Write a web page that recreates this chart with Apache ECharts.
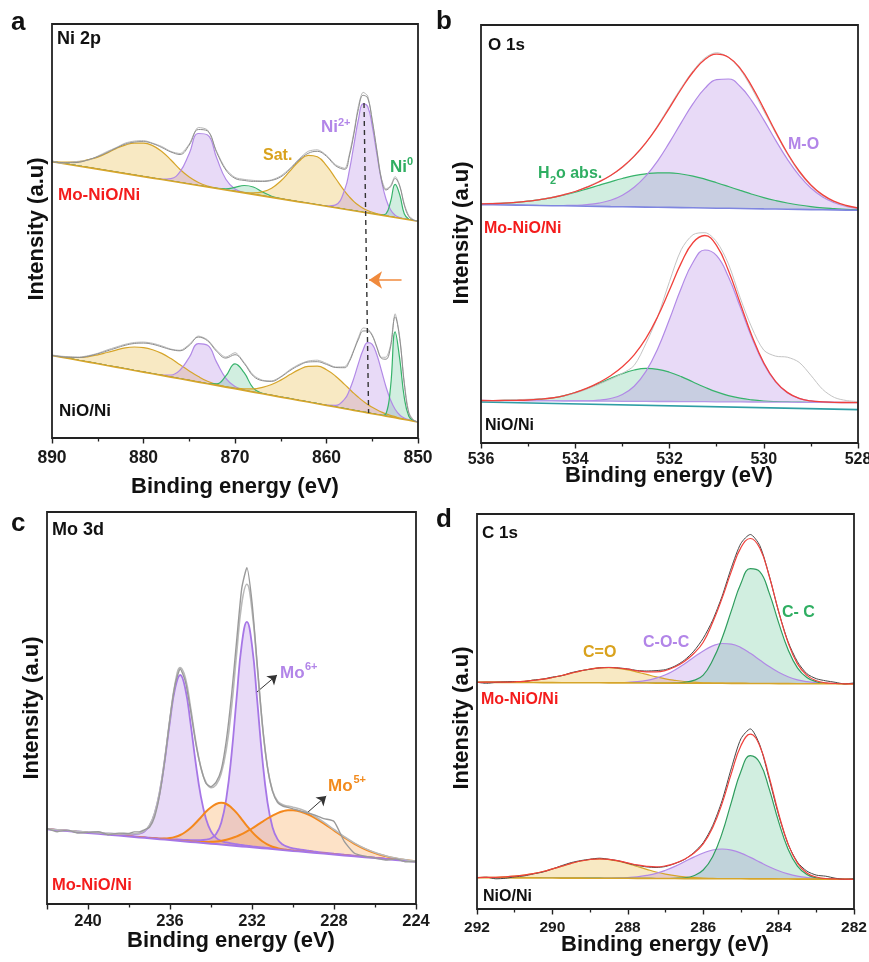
<!DOCTYPE html>
<html>
<head>
<meta charset="utf-8">
<title>XPS spectra</title>
<script src="https://cdn.jsdelivr.net/npm/echarts/dist/echarts.min.js"></script>
<style>
html,body{margin:0;padding:0;background:#ffffff;}
#chart{width:869px;height:962px;}
</style>
</head>
<body>
<div id="chart"></div>
<script>
// ================= (a) Ni 2p =================
const niE = [890,889,888,887,886,885,884,883,882,881,880,879,878,877,876,875,874,873,872,871,870,869,868,867,866,865,864,863,862,861,860,859,858,857.5,857,856.5,856,855.5,855,854.5,854,853.5,853,852.5,852,851.5,851,850.5,850];
const niTopBase = [276.3,274.8,273.3,271.8,270.4,268.9,267.4,265.9,264.4,262.9,261.4,259.9,258.5,257.0,255.5,254.0,252.5,251.0,249.5,248.0,246.6,245.1,243.6,242.1,240.6,239.1,237.6,236.1,234.7,233.2,231.7,230.2,228.7,228.0,227.2,226.5,225.7,225.0,224.2,223.5,222.8,222.0,221.3,220.5,219.8,219.0,218.3,217.5,216.8];
const niTopSat1 = [0.3,1,2.5,4.5,8,12,17.5,23.5,28.5,32, 33.5,32.5,28,21,13,7,3,1,0.3,0, 0,0,0,0,0,0,0,0,0,0, 0,0,0, 0,0,0,0,0,0,0,0,0,0,0,0,0,0,0,0];
const niTopNi2p1 = [0,0,0,0,0,0,0,0,0,0, 0,0,0.3,2.4,10.8,30.4,52,52,30.4,10.8, 2.4,0.3,0,0,0,0,0,0,0,0, 0,0,0, 0,0,0,0,0,0,0,0,0,0,0,0,0,0,0,0];
const niTopNi0b = [0,0,0,0,0,0,0,0,0,0, 0,0,0,0,0,0,0,0,0.2,1.2, 4,7.4,7.4,4,1.2,0.2,0,0,0,0, 0,0,0, 0,0,0,0,0,0,0,0,0,0,0,0,0,0,0,0];
const niTopSat2 = [0,0,0,0,0,0,0,0,0,0, 0,0,0,0,0,0,0,0,0,0, 0.1,0.5,1.5,4.1,9.2,17.9,29.3,40.7,48,48, 40.7,29.3,17.9, 13.1,9.2,6.2,4.1,2.5,1.5,0.9,0.5,0.25,0.1,0,0,0,0,0,0];
const niTopNi2p3 = [0,0,0,0,0,0,0,0,0,0, 0,0,0,0,0,0,0,0,0,0, 0,0,0,0,0,0,0,0,0,0, 0.2,2.9,19.9, 39.6,66.1,92.5,108.5,106.6,87.7,60.5,35,17,6.9,2.3,0.7,0.2,0,0,0];
const niTopNi0 = [0,0,0,0,0,0,0,0,0,0, 0,0,0,0,0,0,0,0,0,0, 0,0,0,0,0,0,0,0,0,0, 0,0,0, 0,0,0,0,0,0,0,0.1,2.1,14.9,33.2,23.6,5.3,0.4,0,0];
const niTopFit = [0,0.5,2,4,8,12.5,18,24,29.5,33, 35,34.5,32,29,28,39,56,56,36,20, 13,12.5,13,14.5,17,22,31,42,50,53.5, 50,42,40, 54,77,103,117,115,93,64,36,26,30,39,32,14,3,0.5,0];
const niTopRaw = [1,0,2.5,5,7.5,13,19,24.5,30.5,34, 36,35,33,29.5,29,40,58,57,37,21, 14,13.5,14,15,17.5,23,32,43,52,55, 51,43,41, 56,79,106,120,117,94,65,37,27,31,41,33,15,4,1,-0.5];

const niBotBase = [82.5,80.8,79.2,77.5,75.9,74.2,72.5,70.9,69.2,67.5,65.9,64.2,62.6,60.9,59.2,57.6,55.9,54.2,52.6,50.9,49.3,47.6,45.9,44.3,42.6,40.9,39.3,37.6,36.0,34.3,32.6,31.0,29.3,28.5,27.6,26.8,26.0,25.1,24.3,23.5,22.7,21.8,21.0,20.2,19.3,18.5,17.7,16.8,16.0];
const niBotSat1 = [0.2,0.6,1.5,3,5.5,9,13,17,21,23.5, 24.5,24,22,18.5,14,9.5,5.5,2.5,1,0.3, 0,0,0,0,0,0,0,0,0,0, 0,0,0, 0,0,0,0,0,0,0,0,0,0,0,0,0,0,0,0];
const niBotNi2p1 = [0,0,0,0,0,0,0,0,0,0, 0,0,0.3,2.1,8.8,23,38.5,38.5,23,8.8, 2.1,0.3,0,0,0,0,0,0,0,0, 0,0,0, 0,0,0,0,0,0,0,0,0,0,0,0,0,0,0,0];
const niBotNi0b = [0,0,0,0,0,0,0,0,0,0, 0,0,0,0,0,0,0,0.1,1.6,11.2, 24.9,17.7,4,0.3,0,0,0,0,0,0, 0,0,0, 0,0,0,0,0,0,0,0,0,0,0,0,0,0,0,0];
const niBotSat2 = [0,0,0,0,0,0,0,0,0,0, 0,0,0,0,0,0,0,0,0.1,0.3, 0.7,1.6,3.3,6.4,10.9,17,24.1,30.8,35.7,37.5, 35.7,30.8,24.1, 20.5,17,13.8,10.9,8.4,6.4,4.7,3.3,2.3,1.6,1.1,0.7,0.4,0.3,0.1,0];
const niBotNi2p3 = [0,0,0,0,0,0,0,0,0,0, 0,0,0,0,0,0,0,0,0,0, 0,0,0,0,0,0,0,0,0,0, 0.2,1.7,9.9, 19.2,32.5,48.1,62.1,70.2,69.3,59.7,44.9,29.5,17,8.5,3.7,1.4,0.5,0.1,0];
const niBotNi0 = [0,0,0,0,0,0,0,0,0,0, 0,0,0,0,0,0,0,0,0,0, 0,0,0,0,0,0,0,0,0,0, 0,0,0, 0,0,0,0,0,0,0,0,2.5,30,86,60,22,4,0.5,0];
const niBotFit = [0,0.5,1.5,3,6,10,14.5,19,23.5,27, 29,29.5,28.5,27.5,28,35,45,43,34,29, 34,27,16,13,14,20,28,35,40,42, 41,39.5,41, 48,60,72,81,82,78,67,57,57,70,101,80,36,7,1,0];
const niBotRaw = [0.5,1,2,3.5,6.5,10.5,15.5,20,24.5,28, 30,30.5,29.5,28,28.5,36,46,44,35,30, 36,28,17,13.5,14.5,20.5,29,36,41,43.5, 42,40,42, 49,61,74,84,84,79,68,58,59,72,104,82,37,8,1.5,0];
const niShift = [[855.9,335],[855.4,25]];
const niArrow = [[851.8,158],[855.35,158]];

// ================= (b) O 1s =================
const oE = [536,535.75,535.5,535.25,535,534.75,534.5,534.25,534,533.75,533.5,533.25,533,532.75,532.5,532.25,532,531.75,531.5,531.25,531,530.75,530.5,530.25,530,529.75,529.5,529.25,529,528.75,528.5,528.25,528];
const oTopBase = [238.4,238.2,238.0,237.9,237.7,237.5,237.3,237.2,237.0,236.8,236.6,236.4,236.3,236.1,235.9,235.7,235.6,235.4,235.2,235.0,234.8,234.7,234.5,234.3,234.1,234.0,233.8,233.6,233.4,233.2,233.1,232.9,232.7];
const oTopH2O = [0.7,1.2,1.8,2.8,4.1,5.8,8,10.7,13.8,17.4,21.1,24.8,28.2,31.2,33.3,34.5,34.6,33.6,31.7,28.9,25.5,21.8,18.1,14.5,11.3,8.5,6.2,4.4,3,2,1.3,0.8,0.5];
const oTopMO = [0,0,0,0,0,0,0.1,0.3,0.7,1.6,3.3,6.3,11.5,19.6,31.2,46.5,65,85,104.1,119.6,128.5,129.3,122,107.6,89,68.9,50,34,21.6,12.9,7.2,3.8,1.8];
const oTopRaw = [1,1.5,2,3,4,6,8.5,11,14.5,19.5,25,31,39,50,64,82,101,120,137,150,155.5,151,139,120,98,76,55,37,24,14,8,4,2];
const oBotBase = [42.5,42.4,42.4,42.3,42.2,42.2,42.1,42.0,42.0,41.9,41.8,41.8,41.7,41.6,41.6,41.5,41.5,41.4,41.3,41.3,41.2,41.1,41.1,41.0,40.9,40.9,40.8,40.7,40.7,40.6,40.5,40.5,40.4];
const oBotH2O = [0,0,0.2,0.4,0.8,1.6,2.9,5.2,8.4,12.6,17.6,22.8,27.7,31.4,33,32.2,29.3,25,19.7,14.5,9.9,6.3,3.7,2.1,1.1,0.5,0.3,0.1,0,0,0,0,0];
const oBotMO = [0,0,0,0,0,0,0,0,0.1,0.3,1,2.7,6.8,15.2,30,52.8,82.2,113.7,139.5,151.7,146.2,125.1,95,64,38.2,20.2,9.5,3.9,1.4,0.5,0.1,0,0];
const oBotRaw = [0,0,0.5,1,1.5,2,3,5,8,12,17,22,28,36,58,85,120,152,167,169,160,138,104,74,52,46,45,40,27,13,5,2,1];
const oBgE = [536, 528];
const oBgY = [41, 33.4];

// ================= (c) Mo 3d =================
const moE = [242,241.5,241,240.5,240,239.5,239,238.5, 238,237.75,237.5,237.25,237,236.75,236.5,236.25,236,235.75, 235.5,235.25,235,234.75,234.5,234.25,234,233.75,233.5,233.25, 233,232.75,232.5,232.25,232,231.75,231.5,231.25,231,230.75, 230.5,230.25,230,229.75,229.5,229.25,229, 228.5,228,227.5,227,226.5,226,225.5,225,224.5,224];
const moBase = [74.7,73.8,72.9,72.0,71.1,70.2,69.3,68.4, 67.5,67.1,66.6,66.2,65.7,65.3,64.8,64.4,63.9,63.5, 63.0,62.6,62.1,61.7,61.2,60.8,60.3,59.9,59.4,59.0, 58.5,58.1,57.6,57.2,56.7,56.3,55.8,55.4,54.9,54.5, 54.0,53.6,53.1,52.7,52.2,51.8,51.3, 50.4,49.5,48.6,47.7,46.8,45.9,45.0,44.1,43.2,42.3];
const moVI32 = [0.3,0.35,0.4,0.5,0.6,0.8,1,1.4, 2,2.6,3.7,6.3,12.4,24.8,47,80,119,152.4, 166,152.4,119,80,47,24.8,12.4,6.3,3.7,2.6, 2,1.7,1.4,1.2,1,0.9,0.8,0.7,0.6,0.55, 0.5,0.45,0.4,0.38,0.35,0.32,0.3, 0.25,0.22,0.2,0.18,0.16,0.15,0.13,0.12,0.11,0.1];
const moVI52 = [0.15,0.16,0.18,0.2,0.22,0.27,0.3,0.35, 0.45,0.5,0.55,0.6,0.65,0.75,0.8,0.9,1,1.1, 1.3,1.5,1.8,2.1,2.6,3.5,5.4,10.1,21.9,47.1, 90.4,148,202,225,202,148,90.4,47.1,21.9,10.1, 5.4,3.5,2.6,2.1,1.8,1.5,1.3, 1,0.8,0.65,0.55,0.45,0.35,0.3,0.27,0.22,0.2];
const moV32 = [0,0,0,0,0,0,0,0, 0,0,0,0,0.1,0.2,0.5,1.1,2,3.6, 6,9.4,13.9,19.3,25.3,31.4,36.4,40.1,41.8,41, 37.8,33,27.1,21,15.4,10.6,6.9,4.2,2.4,1.3, 0.6,0.3,0.1,0,0,0,0, 0,0,0,0,0,0,0,0,0,0];
const moV52 = [0,0,0,0,0,0,0,0, 0,0,0,0,0,0,0,0,0,0, 0.1,0.2,0.3,0.5,0.8,1.3,1.9,2.7,3.9,5.3, 7.2,9.5,12.2,15.4,18.8,22.6,26.4,30.1,33.5,36.4, 38.7,40.1,40.6,40.3,39.3,37.7,35.6, 30.2,24,17.9,12.5,8.2,5,2.9,1.5,0.8,0.4];
const moRaw = [1,-1.5,1,-1,0.5,2,0,2.5, 3,5,5.5,8,11,22,45,80,122,156, 172,160,132,100,76,60,57,62,75,105, 150,205,258,279,245,185,125,82,58,47, 44,43,42,41,40,39,38, 35,33,14,3,1,0,-1,1,-1,0];
const moArrow6 = [[231.76,212],[230.78,229]];
const moArrow5 = [[229.32,91],[228.38,108]];

// ================= (d) C 1s =================
const cE = [292,291.75,291.5,291.25,291,290.75,290.5,290.25,290,289.75,289.5,289.25,289,288.75,288.5,288.25,288,287.75,287.5,287.25,287,286.75,286.5,286.25,286,285.75,285.5,285.25,285,284.75,284.5,284.25,284,283.75,283.5,283.25,283,282.75,282.5,282.25,282];
const cTopBase = [226.7,226.7,226.6,226.6,226.5,226.5,226.5,226.4,226.4,226.3,226.3,226.3,226.2,226.2,226.1,226.1,226.1,226.0,226.0,225.9,225.9,225.9,225.8,225.8,225.7,225.7,225.7,225.6,225.6,225.5,225.5,225.5,225.4,225.4,225.3,225.3,225.3,225.2,225.2,225.1,225.1];
const cTopCO = [0,0.1,0.2,0.3,0.7,1.2,2.1,3.4,5.1,7.2,9.5,11.8,13.8,15,15.3,14.6,13.1,10.9,8.6,6.3,4.3,2.8,1.7,1,0.5,0.3,0.1,0,0,0,0,0,0,0,0,0,0,0,0,0,0];
const cTopCOC = [0,0,0,0,0,0,0,0,0,0,0,0,0,0,0.1,0.3,0.6,1.3,2.6,4.9,8.3,13.2,19.2,25.9,32.4,37.4,39.8,39.3,35.8,30.2,23.5,16.9,11.3,6.9,3.9,2.1,1,0.5,0.2,0.1,0];
const cTopCC = [0,0,0,0,0,0,0,0,0,0,0,0,0,0,0,0,0,0,0,0,0,0.2,0.8,2.8,8.2,23,45,73,100,114.8,111.9,90.6,61,34.2,15.9,6.2,2,0.5,0.1,0,0];
const cTopRaw = [0,-1,0,0.5,1,1,2.5,3.5,5.5,7,10,12,13.5,15,15.5,15,14,12.5,12,12.5,13.5,17,23,32,45,63,87,116,140,149,138,108,72,42,22,10,5,3,1.5,0,1];
const cBotBase = [31.3,31.3,31.2,31.2,31.1,31.1,31.1,31.0,31.0,30.9,30.9,30.9,30.8,30.8,30.7,30.7,30.7,30.6,30.6,30.5,30.5,30.5,30.4,30.4,30.3,30.3,30.3,30.2,30.2,30.1,30.1,30.1,30.0,30.0,29.9,29.9,29.9,29.8,29.8,29.7,29.7];
const cBotCO = [0.1,0.3,0.5,0.9,1.7,2.8,4.4,6.5,9.1,11.9,14.7,17.1,18.7,19.3,18.7,17.1,14.7,11.9,9.1,6.5,4.4,2.8,1.7,0.9,0.5,0.3,0.1,0,0,0,0,0,0,0,0,0,0,0,0,0,0];
const cBotCOC = [0,0,0,0,0,0,0,0,0,0,0,0,0,0,0.2,0.4,0.8,1.6,3,5.1,8.2,12.1,16.8,21.5,25.7,28.7,29.7,28.7,25.7,21.5,16.8,12.1,8.2,5.1,3,1.6,0.8,0.4,0.2,0.1,0];
const cBotCC = [0,0,0,0,0,0,0,0,0,0,0,0,0,0,0,0,0,0,0,0,0,0.2,0.8,2.9,8.7,22,45.3,77,107.4,123.2,116.2,90,57.4,30.1,13,4.6,1.3,0.3,0.1,0,0];
const cBotRaw = [0,0.5,-1,-0.5,1,2,4,6,9,12.5,15.5,17.5,19,20,19,17.5,15,13,11.5,11,12,15,19,26,36,53,78,111,140,150,134,100,64,35,17,8,4,3,1,0,0.5];

// ================= layout & styles =================
const FONT = "'Liberation Sans', Arial, Helvetica, sans-serif";
const GRIDS = [
  {left:52, top:24, width:366, height:414},
  {left:481, top:25, width:377, height:418},
  {left:47, top:512, width:369, height:392},
  {left:477, top:514, width:377, height:395}
];
const YEL = '#d6a52a', YELF = 'rgba(236,196,96,0.38)';
const PUR = '#b189e6', PURF = 'rgba(178,134,230,0.30)';
const GRN = '#37b36b', GRNF = 'rgba(78,190,135,0.26)';
const ORG = '#f4881c', ORGF = 'rgba(250,165,80,0.32)';
const RED = '#f0413c';

const S = [];
function pts(E, base, h) { return E.map((e, i) => [e, +(base[i] + (h ? h[i] : 0)).toFixed(2)]); }
function total(list) { return list[0].map((_, i) => list.reduce((s, a) => s + a[i], 0)); }
function comp(p, E, base, h, line, fill, z, w) {
  S.push({type:'line', xAxisIndex:p, yAxisIndex:p, data:pts(E, base, h), smooth:0.45, symbol:'none', silent:true, z:z,
    lineStyle:{color:line, width:w || 1.2}, areaStyle:{color:fill, origin:'start', opacity:1}});
}
function cover(p, E, base, line, z, w) {
  S.push({type:'line', xAxisIndex:p, yAxisIndex:p, data:pts(E, base), symbol:'none', silent:true, z:z,
    lineStyle:{color:line, width:w || 1.5}, areaStyle:{color:'#ffffff', origin:'start', opacity:1}});
}
function curve(p, E, base, h, line, w, z, sm, extra) {
  const s = {type:'line', xAxisIndex:p, yAxisIndex:p, data:pts(E, base, h), smooth:sm, symbol:'none', silent:true, z:z,
    lineStyle:{color:line, width:w}};
  if (extra) Object.assign(s, extra);
  S.push(s);
}
function arrowMark(seg, color, width, size) {
  return {silent:true, symbol:['none','arrow'], symbolSize:size, label:{show:false},
    lineStyle:{color:color, width:width, type:'solid'},
    data:[[{coord:seg[0]},{coord:seg[1]}]]};
}

// (a)
comp(0, niE, niTopBase, niTopSat1, YEL, YELF, 1);
comp(0, niE, niTopBase, niTopNi2p1, PUR, PURF, 1);
comp(0, niE, niTopBase, niTopNi0b, GRN, GRNF, 1);
comp(0, niE, niTopBase, niTopSat2, YEL, YELF, 1);
comp(0, niE, niTopBase, niTopNi2p3, PUR, PURF, 1);
comp(0, niE, niTopBase, niTopNi0, GRN, GRNF, 1);
cover(0, niE, niTopBase, YEL, 2, 1.6);
comp(0, niE, niBotBase, niBotSat1, YEL, YELF, 3);
comp(0, niE, niBotBase, niBotNi2p1, PUR, PURF, 3);
comp(0, niE, niBotBase, niBotNi0b, GRN, GRNF, 3);
comp(0, niE, niBotBase, niBotSat2, YEL, YELF, 3);
comp(0, niE, niBotBase, niBotNi2p3, PUR, PURF, 3);
comp(0, niE, niBotBase, niBotNi0, GRN, GRNF, 3);
cover(0, niE, niBotBase, YEL, 4, 1.6);
curve(0, niE, niTopBase, niTopRaw, '#b8b8b8', 1, 6, 0.25);
curve(0, niE, niTopBase, niTopFit, '#8e8e8e', 1, 7, 0.4);
curve(0, niE, niBotBase, niBotRaw, '#b8b8b8', 1, 6, 0.25);
curve(0, niE, niBotBase, niBotFit, '#8e8e8e', 1, 7, 0.4);
S.push({type:'line', xAxisIndex:0, yAxisIndex:0, data:niShift, symbol:'none', silent:true, z:8,
  lineStyle:{color:'#333', width:1.4, type:[5,4]},
  markLine:arrowMark(niArrow, '#f08a3c', 1.6, 13)});

// (b)
comp(1, oE, oTopBase, oTopH2O, GRN, GRNF, 1);
comp(1, oE, oTopBase, oTopMO, PUR, PURF, 1);
cover(1, oE, oTopBase, '#7f86e0', 2, 1.6);
comp(1, oE, oBotBase, oBotH2O, GRN, GRNF, 3);
comp(1, oE, oBotBase, oBotMO, PUR, PURF, 3);
cover(1, oE, oBotBase, '#b597e8', 4, 1.3);
S.push({type:'line', xAxisIndex:1, yAxisIndex:1, data:oBgE.map((e, i) => [e, oBgY[i]]), symbol:'none', silent:true, z:6,
  lineStyle:{color:'#2f9ea5', width:1.6}});
curve(1, oE, oTopBase, oTopRaw, '#c4c4c4', 1, 6, 0.3);
curve(1, oE, oTopBase, total([oTopH2O, oTopMO]), RED, 1.3, 7, 0.45);
curve(1, oE, oBotBase, oBotRaw, '#c4c4c4', 1, 6, 0.3);
curve(1, oE, oBotBase, total([oBotH2O, oBotMO]), RED, 1.3, 7, 0.45);

// (c)
comp(2, moE, moBase, moVI32, '#a676e6', PURF, 1, 1.8);
comp(2, moE, moBase, moVI52, '#a676e6', PURF, 1, 1.8);
comp(2, moE, moBase, moV32, ORG, ORGF, 1, 2);
comp(2, moE, moBase, moV52, ORG, ORGF, 1, 2);
cover(2, moE, moBase, '#a676e6', 2, 2);
curve(2, moE, moBase, total([moVI32, moVI52, moV32, moV52]), '#b9b9b9', 1.6, 6, 0.45);
curve(2, moE, moBase, moRaw, '#9a9a9a', 1.4, 7, 0.2, {
  markLine:{silent:true, symbol:['none','arrow'], symbolSize:9, label:{show:false},
    lineStyle:{color:'#333', width:1, type:'solid'},
    data:[[{coord:moArrow6[0]},{coord:moArrow6[1]}],[{coord:moArrow5[0]},{coord:moArrow5[1]}]]}
});

// (d)
comp(3, cE, cTopBase, cTopCO, YEL, YELF, 1);
comp(3, cE, cTopBase, cTopCOC, PUR, PURF, 1);
comp(3, cE, cTopBase, cTopCC, '#2f9d5e', GRNF, 1);
cover(3, cE, cTopBase, YEL, 2, 1.6);
comp(3, cE, cBotBase, cBotCO, YEL, YELF, 3);
comp(3, cE, cBotBase, cBotCOC, PUR, PURF, 3);
comp(3, cE, cBotBase, cBotCC, '#2f9d5e', GRNF, 3);
cover(3, cE, cBotBase, YEL, 4, 1.6);
curve(3, cE, cTopBase, cTopRaw, '#474747', 1, 6, 0.25);
curve(3, cE, cTopBase, total([cTopCO, cTopCOC, cTopCC]), RED, 1.2, 7, 0.45);
curve(3, cE, cBotBase, cBotRaw, '#474747', 1, 6, 0.25);
curve(3, cE, cBotBase, total([cBotCO, cBotCOC, cBotCC]), RED, 1.2, 7, 0.45);

// axes (ticks point outward, below the frame)
function xAx(i, min, max, interval, fs, margin, fmt) {
  return {type:'value', gridIndex:i, min:min, max:max, interval:interval, inverse:true, z:50,
    axisLine:{show:false}, splitLine:{show:false}, minorSplitLine:{show:false},
    axisTick:{show:true, inside:false, length:5.5, lineStyle:{color:'#222', width:1.4}},
    minorTick:{show:true, splitNumber:2, length:3.5, lineStyle:{color:'#222', width:1.3}},
    axisLabel:{show:true, fontSize:fs, fontWeight:'bold', color:'#1a1a1a', fontFamily:FONT, margin:margin,
      formatter: fmt || (v => String(v))}};
}
const xAxes = [
  xAx(0, 850, 890, 10, 17.5, 11.5),
  xAx(1, 528, 536, 2, 16, 9),
  xAx(2, 224, 242, 4, 16.5, 9, v => (v % 4 === 0 ? String(v) : '')),
  xAx(3, 282, 292, 2, 15.5, 11)
];
const yAxes = GRIDS.map((g, i) => ({type:'value', gridIndex:i, min:0, max:g.height, show:false}));

// texts
function T(x, y, text, size, color, align, rot) {
  const el = {type:'text', x:x, y:y, z:100, silent:true,
    style:{text:text, fontSize:size, fontWeight:'bold', fontFamily:FONT, fill:color, align:align || 'left', verticalAlign:'middle'}};
  if (rot) el.rotation = rot;
  return el;
}
function frame(g) {
  return {type:'rect', z:100, silent:true, shape:{x:g.left, y:g.top, width:g.width, height:g.height},
    style:{fill:'transparent', stroke:'#222', lineWidth:1.8}};
}
const BLK = '#111', REDT = '#f41c1c', GOLD = '#d9a21d', PURT = '#b285e8', GRNT = '#2fae62', ORGT = '#f28a1c';
const R90 = Math.PI / 2;
const elements = [
  frame(GRIDS[0]), frame(GRIDS[1]), frame(GRIDS[2]), frame(GRIDS[3]),
  T(11, 23, 'a', 26, BLK), T(436, 22, 'b', 26, BLK), T(11, 524, 'c', 26, BLK), T(436, 520, 'd', 26, BLK),
  T(57, 39, 'Ni 2p', 18, BLK), T(488, 45, 'O 1s', 17, BLK), T(52, 530, 'Mo 3d', 18, BLK), T(482, 533, 'C 1s', 17, BLK),
  T(58, 195, 'Mo-NiO/Ni', 17, REDT), T(59, 411, 'NiO/Ni', 17, BLK),
  T(484, 229, 'Mo-NiO/Ni', 16, REDT), T(485, 426, 'NiO/Ni', 16, BLK),
  T(52, 885, 'Mo-NiO/Ni', 16.5, REDT),
  T(481, 700, 'Mo-NiO/Ni', 16, REDT), T(483, 897, 'NiO/Ni', 16, BLK),
  T(263, 156, 'Sat.', 16, GOLD),
  T(321, 127.5, 'Ni', 17, PURT), T(338, 122.5, '2+', 11, PURT),
  T(390, 167.5, 'Ni', 17, GRNT), T(407, 162, '0', 11, GRNT),
  T(538, 174, 'H', 16, GRNT), T(550, 181, '2', 11, GRNT), T(556, 174, 'o abs.', 16, GRNT),
  T(788, 145, 'M-O', 16, PURT),
  T(280, 673, 'Mo', 17, PURT), T(305, 667, '6+', 11, PURT),
  T(328, 786.5, 'Mo', 17, ORGT), T(353.5, 780, '5+', 11, ORGT),
  T(583, 653, 'C=O', 16, GOLD), T(643, 642.5, 'C-O-C', 16, PURT), T(782, 612.5, 'C- C', 16, GRNT),
  T(235, 486.5, 'Binding energy (eV)', 22, BLK, 'center'),
  T(669, 476, 'Binding energy (eV)', 22, BLK, 'center'),
  T(231, 941, 'Binding energy (eV)', 22, BLK, 'center'),
  T(665, 944.5, 'Binding energy (eV)', 22, BLK, 'center'),
  T(37, 229, 'Intensity (a.u)', 22, BLK, 'center', R90),
  T(462, 233, 'Intensity (a.u)', 22, BLK, 'center', R90),
  T(32, 708, 'Intensity (a.u)', 22, BLK, 'center', R90),
  T(462, 718, 'Intensity (a.u)', 22, BLK, 'center', R90)
];

const chart = echarts.init(document.getElementById('chart'), null, {renderer:'canvas'});
chart.setOption({
  animation:false,
  backgroundColor:'#ffffff',
  grid: GRIDS.map(g => Object.assign({show:false, containLabel:false, outerBoundsMode:'none'}, g)),
  xAxis: xAxes,
  yAxis: yAxes,
  series: S,
  graphic: {elements: elements}
});
</script>
</body>
</html>
